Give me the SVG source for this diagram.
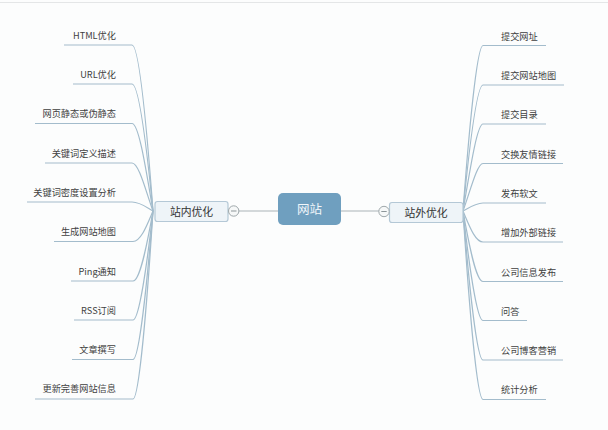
<svg xmlns="http://www.w3.org/2000/svg" width="608" height="430" viewBox="0 0 608 430">
<style>
text{font-family:"Noto Sans CJK SC","Liberation Sans",sans-serif;fill:#3f3f3f;font-size:9.200px}
.l{text-anchor:end}
.t{font-size:10.800px;text-anchor:middle;fill:#333}
.c{font-size:12.500px;text-anchor:middle;fill:#f1f6fa}
.b{fill:#eef4f8;stroke:#b4c8d6;stroke-width:1.2}
.m{fill:#f6f8f8;stroke:#9fa8ab;stroke-width:1}
#connectors path{fill:none;stroke:#a3bccc;stroke-width:1.2}
#connectors line{stroke:#a9b3b7;stroke-width:1.2}
</style>
<rect width="608" height="430" fill="#fcfdfd"/>
<rect y="2" width="608" height="1" fill="#e4e6e7"/>
<g id="connectors">
<path d="M64 45H132C139 45 147 130 153 211"/>
<path d="M73 84H132C139 84 147 150 153 211"/>
<path d="M35 123.500H132C139 123.500 146 170 153 211"/>
<path d="M45 163H132C139 163 146 192 153 211"/>
<path d="M27 202H132C140 202 146 207 153 211"/>
<path d="M54 241.500H133C141 241.500 147 225 153 211"/>
<path d="M71 281H133C140 281 147 245 153 211"/>
<path d="M74 320H133C139 320 147 265 153 211"/>
<path d="M72 359.500H133C139 359.500 147 285 153 211"/>
<path d="M35 399H133C139 399 147 305 153 211"/>
<path d="M546 45.500H483C477 45.500 469 130 463 211"/>
<path d="M564 85H483C477 85 469 150 463 211"/>
<path d="M546 124H483C477 124 470 170 463 211"/>
<path d="M563 163.500H483C477 163.500 470 192 463 211"/>
<path d="M546 203H483C476 203 470 207 463 211"/>
<path d="M563 242H483C475 242 469 225 463 211"/>
<path d="M563 281.500H483C476 281.500 469 245 463 211"/>
<path d="M527 320.500H483C477 320.500 469 265 463 211"/>
<path d="M563 360H483C477 360 469 285 463 211"/>
<path d="M546 399.500H483C477 399.500 469 305 463 211"/>
<line x1="228" y1="211" x2="278" y2="211"/>
<line x1="341" y1="211" x2="389" y2="211"/>
</g>
<g id="center"><rect x="278" y="193" width="63" height="32" rx="5" fill="#6f9fbf"/><text class="c" x="309.500" y="213.500">网站</text></g>
<g id="left-main"><rect class="b" x="155" y="201.500" width="73" height="20" rx="2.500"/><text class="t" x="191.500" y="215.500">站内优化</text></g>
<g id="left-toggle"><circle class="m" cx="233.700" cy="211" r="5.200"/><line x1="231" y1="211" x2="236.500" y2="211" stroke="#8d9699"/></g>
<g id="right-main"><rect class="b" x="389.500" y="202.500" width="73.500" height="20" rx="2.500"/><text class="t" x="426" y="216.500">站外优化</text></g>
<g id="right-toggle"><circle class="m" cx="384" cy="211.500" r="5.200"/><line x1="381.300" y1="211.500" x2="386.700" y2="211.500" stroke="#8d9699"/></g>
<g id="l1"><text class="l" x="116" y="38.500">HTML优化</text></g>
<g id="l2"><text class="l" x="116" y="77.500">URL优化</text></g>
<g id="l3"><text class="l" x="116" y="117">网页静态或伪静态</text></g>
<g id="l4"><text class="l" x="116" y="156.500">关键词定义描述</text></g>
<g id="l5"><text class="l" x="116" y="195.500">关键词密度设置分析</text></g>
<g id="l6"><text class="l" x="116" y="235">生成网站地图</text></g>
<g id="l7"><text class="l" x="116" y="274.500">Ping通知</text></g>
<g id="l8"><text class="l" x="116" y="313.500">RSS订阅</text></g>
<g id="l9"><text class="l" x="116" y="353">文章撰写</text></g>
<g id="l10"><text class="l" x="116" y="392">更新完善网站信息</text></g>
<g id="r1"><text x="501" y="39.500">提交网址</text></g>
<g id="r2"><text x="501" y="78.500">提交网站地图</text></g>
<g id="r3"><text x="501" y="118">提交目录</text></g>
<g id="r4"><text x="501" y="157.500">交换友情链接</text></g>
<g id="r5"><text x="501" y="196.500">发布软文</text></g>
<g id="r6"><text x="501" y="236">增加外部链接</text></g>
<g id="r7"><text x="501" y="275.500">公司信息发布</text></g>
<g id="r8"><text x="501" y="314.500">问答</text></g>
<g id="r9"><text x="501" y="354">公司博客营销</text></g>
<g id="r10"><text x="501" y="393">统计分析</text></g>
</svg>
